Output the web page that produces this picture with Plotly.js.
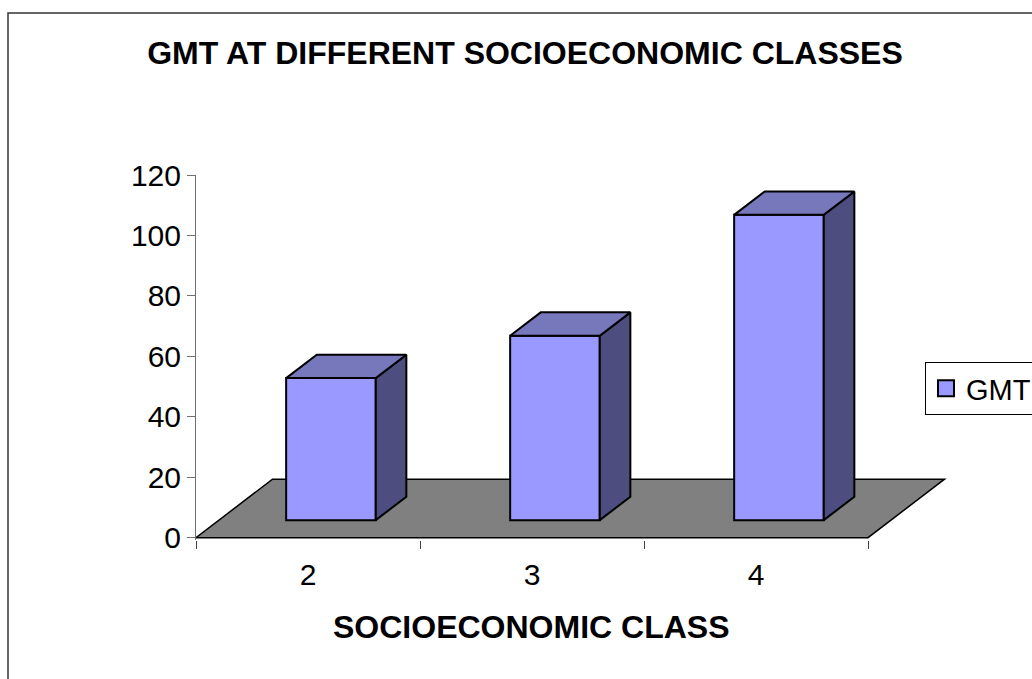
<!DOCTYPE html>
<html>
<head>
<meta charset="utf-8">
<script src="https://cdn.plot.ly/plotly-3.0.1.min.js"></script>
<style>
  html, body { margin: 0; padding: 0; background: #ffffff; }
  #chart { width: 1032px; height: 679px; }
</style>
</head>
<body>
<div id="chart"></div>
<script>
// Series data
const categories = ['2', '3', '4'];
const gmtValues = [47, 61, 101];
const yTickValues = [0, 20, 40, 60, 80, 100, 120];

// Oblique 3-D look: a depth step of one full floor is DEPTH_X category units
// to the right and DEPTH_Y value units upward.
const BAR_WIDTH = 0.4;
const DEPTH_X = 0.3415;
const DEPTH_Y = 19.36;
const FRONT = 0.3;   // depth fraction of the bar front face
const BACK = 0.7;    // depth fraction of the bar back face

const FONT = 'Liberation Sans, Arial, Helvetica, sans-serif';
const FRONT_COLOR = '#9999FF';
const TOP_COLOR = '#7777BB';
const SIDE_COLOR = '#4D4D80';

const centers = categories.map((_, i) => i + 1);
const first = 0.5;
const last = categories.length + 0.5;

// Front faces as a real bar trace, lifted to the front-face depth
const barTrace = {
  type: 'bar',
  name: 'GMT',
  x: centers.map(c => c + FRONT * DEPTH_X),
  y: gmtValues,
  base: gmtValues.map(() => FRONT * DEPTH_Y),
  width: BAR_WIDTH,
  marker: { color: FRONT_COLOR, line: { color: '#000000', width: 2 } },
  showlegend: false,
  hovertemplate: 'Class %{customdata}: %{y}<extra></extra>',
  customdata: categories
};

// Top and right-side faces of each column
const faceTraces = [];
const bdx = (BACK - FRONT) * DEPTH_X;
const bdy = (BACK - FRONT) * DEPTH_Y;
centers.forEach((c, i) => {
  const x0 = c - BAR_WIDTH / 2 + FRONT * DEPTH_X;
  const x1 = c + BAR_WIDTH / 2 + FRONT * DEPTH_X;
  const y0 = FRONT * DEPTH_Y;
  const y1 = y0 + gmtValues[i];
  faceTraces.push({
    type: 'scatter', mode: 'lines', fill: 'toself',
    x: [x1, x1, x1 + bdx, x1 + bdx, x1],
    y: [y0, y1, y1 + bdy, y0 + bdy, y0],
    fillcolor: SIDE_COLOR,
    line: { color: '#000000', width: 2 },
    hoverinfo: 'skip', showlegend: false
  });
  faceTraces.push({
    type: 'scatter', mode: 'lines', fill: 'toself',
    x: [x0, x1, x1 + bdx, x0 + bdx, x0],
    y: [y1, y1, y1 + bdy, y1 + bdy, y1],
    fillcolor: TOP_COLOR,
    line: { color: '#000000', width: 2 },
    hoverinfo: 'skip', showlegend: false
  });
});

// Legend entry for the series
const legendTrace = {
  type: 'scatter', mode: 'markers', name: 'GMT',
  x: [null], y: [null],
  marker: { symbol: 'square', size: 16, color: FRONT_COLOR, line: { color: '#000000', width: 2 } },
  hoverinfo: 'skip', showlegend: true
};

// Plot area: 196..952 px wide, value 120 at 175 px and value 0 near 538 px
const plotLeft = 196, plotWidth = 756, plotTop = 175, plotHeight = 365;
const unitPx = 224;
const yMin = -0.76;

const layout = {
  width: 1032,
  height: 679,
  paper_bgcolor: '#ffffff',
  plot_bgcolor: 'rgba(0,0,0,0)',
  margin: { l: plotLeft, r: 1032 - plotLeft - plotWidth, t: plotTop, b: 679 - plotTop - plotHeight, pad: 0, autoexpand: false },
  showlegend: true,
  font: { family: FONT, color: '#000000' },
  title: {
    text: '<b>GMT AT DIFFERENT SOCIOECONOMIC CLASSES</b>',
    font: { family: FONT, size: 32, color: '#000000' },
    xref: 'container', yref: 'container',
    x: 525 / 1032, xanchor: 'center',
    y: 1 - 53 / 679, yanchor: 'middle'
  },
  xaxis: {
    type: 'linear',
    range: [first, first + plotWidth / unitPx],
    fixedrange: true,
    showgrid: false, zeroline: false, showline: false,
    tickmode: 'array',
    tickvals: centers,
    ticktext: categories,
    ticks: '',
    ticklabelstandoff: 14,
    tickfont: { family: FONT, size: 30, color: '#000000' },
    minor: {
      tickmode: 'array',
      tickvals: categories.map((_, i) => i + 0.5).concat([last]),
      ticks: 'outside', ticklen: 8, tickwidth: 1, tickcolor: '#404040',
      showgrid: false
    }
  },
  yaxis: {
    range: [yMin, 120],
    fixedrange: true,
    showgrid: false, zeroline: false,
    showline: true, linecolor: '#707070', linewidth: 1,
    tickmode: 'array',
    tickvals: yTickValues,
    ticktext: yTickValues.map(String),
    ticks: 'outside', ticklen: 8, tickwidth: 1, tickcolor: '#707070',
    tickfont: { family: FONT, size: 30, color: '#000000' }
  },
  legend: {
    x: (925 - plotLeft) / plotWidth, xanchor: 'left',
    y: (plotTop + plotHeight - 362) / plotHeight, yanchor: 'top',
    bgcolor: '#ffffff', bordercolor: '#000000', borderwidth: 1,
    font: { family: FONT, size: 29, color: '#000000' }
  },
  shapes: [
    // Floor of the 3-D plot
    {
      type: 'path', xref: 'x', yref: 'y', layer: 'below',
      path: 'M' + first + ',0 L' + last + ',0 L' + (last + DEPTH_X) + ',' + DEPTH_Y +
            ' L' + (first + DEPTH_X) + ',' + DEPTH_Y + ' Z',
      fillcolor: '#808080',
      line: { color: '#000000', width: 1.5 }
    },
    // Chart-area frame
    {
      type: 'rect', xref: 'paper', yref: 'paper',
      x0: (8 - plotLeft) / plotWidth, x1: (1045 - plotLeft) / plotWidth,
      y0: (plotTop + plotHeight - 690) / plotHeight, y1: (plotTop + plotHeight - 13) / plotHeight,
      line: { color: '#333333', width: 1.5 },
      fillcolor: 'rgba(0,0,0,0)'
    }
  ],
  annotations: [
    {
      text: '<b>SOCIOECONOMIC CLASS</b>',
      xref: 'paper', yref: 'paper',
      x: (531 - plotLeft) / plotWidth, xanchor: 'center',
      y: (plotTop + plotHeight - 627) / plotHeight, yanchor: 'middle',
      showarrow: false,
      font: { family: FONT, size: 32, color: '#000000' }
    }
  ]
};

Plotly.newPlot('chart', [barTrace].concat(faceTraces, [legendTrace]), layout, {
  displayModeBar: false,
  staticPlot: false,
  responsive: false
});
</script>
</body>
</html>
